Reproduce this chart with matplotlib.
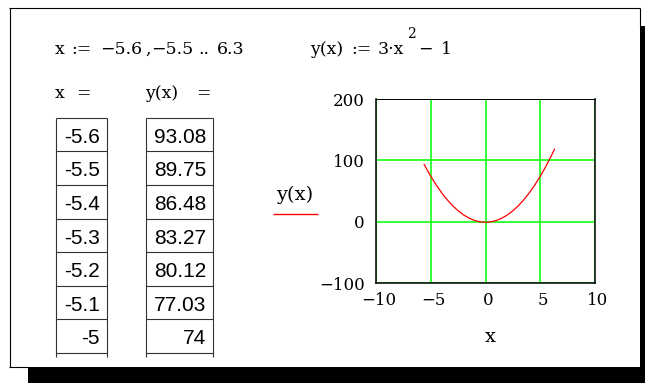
import matplotlib
matplotlib.use('Agg')
import matplotlib.pyplot as plt
import matplotlib.transforms as mtransforms
from matplotlib.patches import Rectangle
from matplotlib.lines import Line2D

# ---- data ----
x_vals = [-5.6, -5.0, -4.5, -4.0, -3.5, -3.0, -2.5, -2.0, -1.5, -1.0, -0.5, 0.0,
          0.5, 1.0, 1.5, 2.0, 2.5, 3.0, 3.5, 4.0, 4.5, 5.0, 5.5, 6.0, 6.3]
y_vals = [93.08, 74.0, 59.75, 47.0, 35.75, 26.0, 17.75, 11.0, 5.75, 2.0, -0.25, -1.0,
          -0.25, 2.0, 5.75, 11.0, 17.75, 26.0, 35.75, 47.0, 59.75, 74.0, 89.75, 107.0, 118.07]
table_x = ["-5.6", "-5.5", "-5.4", "-5.3", "-5.2", "-5.1", "-5"]
table_y = ["93.08", "89.75", "86.48", "83.27", "80.12", "77.03", "74"]
x_ticks = [-10, -5, 0, 5, 10]
y_ticks = [-100, 0, 100, 200]

W, H = 645, 383
fig = plt.figure(figsize=(6.45, 3.83), dpi=100)
fig.patch.set_facecolor('white')

SERIF = 'DejaVu Serif'

def fx(x):
    return x / W

def fy(y):
    return 1 - y / H

def line(xs, ys, color='black', lw=0.8):
    fig.add_artist(Line2D([fx(v) for v in xs], [fy(v) for v in ys], color=color,
                          lw=lw, transform=fig.transFigure, solid_capstyle='butt'))

def rect(x0, y0, x1, y1, color='black'):
    fig.add_artist(Rectangle((fx(x0), fy(y1)), fx(x1) - fx(x0), fy(y0) - fy(y1),
                             facecolor=color, edgecolor='none', transform=fig.transFigure))

def text(x, y, s, family=SERIF, size=12.5, ha='left', va='baseline', color='black'):
    fig.text(fx(x), fy(y), s, family=family, fontsize=size, ha=ha, va=va, color=color)

# page border and shadow
line([9, 639.5], [7.5, 7.5])
line([9.5, 9.5], [7.5, 367])
line([639.5, 639.5], [7.5, 26])
line([9, 28], [366.5, 366.5])
rect(640, 26, 645, 383)
rect(28, 367, 645, 383)

# equations (pieces placed individually)
base = 54
for s, x0 in [("x", 55), (":=", 71.5), ("\u22125.6", 100), (",", 145), ("\u22125.5", 151.5),
              ("..", 198), ("6.3", 216.5)]:
    text(x0, base, s)
for s, x0 in [("y(x)", 310), (":=", 351), ("3\u00b7x", 378), ("\u2212", 418), ("1", 441)]:
    text(x0, base, s)
text(407, 38.5, "2", size=10)

# column headers
text(55, 98.5, "x")
text(76.5, 98.5, "=")
text(145, 98.5, "y(x)")
text(196.5, 98.5, "=")

# tables
row0, rh = 117.7, 33.6
nrows = len(table_x)
bottom = 357
for (xl, xr, vals, tx) in [(55.5, 106.5, table_x, 100), (146, 213, table_y, 206)]:
    line([xl, xl], [row0, bottom], color='#333333')
    line([xr, xr], [row0, bottom], color='#333333')
    for k in range(nrows + 1):
        yy = row0 + k * rh
        line([xl, xr], [yy, yy], color='#333333')
    for k, v in enumerate(vals):
        text(tx, row0 + k * rh + 25, v, family='Liberation Sans', size=15, ha='right')

# legend-like label
text(295, 200, "y(x)", size=14, ha='center')
line([273, 318], [214, 214], color='red', lw=1.0)

# x axis label
text(490, 341.5, "x", size=14, ha='center')

# plot
ax = fig.add_axes([fx(376), fy(283), fx(595) - fx(376), fy(99) - fy(283)])
ax.set_xlim(-10, 10)
ax.set_ylim(-100, 200)
for xv in x_ticks:
    ax.axvline(xv, color='#00ff00', lw=1.1, zorder=1)
for yv in y_ticks:
    ax.axhline(yv, color='#00ff00', lw=1.1, zorder=1)
ax.plot(x_vals, y_vals, color='red', lw=0.9, zorder=3)
for s in ax.spines.values():
    s.set_color('black')
    s.set_linewidth(1.1)
ax.spines['top'].set_linewidth(0.7)
ax.set_xticks(x_ticks)
ax.set_yticks(y_ticks)
ax.set_xticklabels([str(v).replace('-', '\u2212') for v in x_ticks], family=SERIF, fontsize=12)
ax.set_yticklabels([str(v).replace('-', '\u2212') for v in y_ticks], family=SERIF, fontsize=12)
ax.tick_params(length=0)
ax.tick_params(axis='y', pad=8)
ax.tick_params(axis='x', pad=6.5)
offset = mtransforms.ScaledTranslation(3 / 100, 0, fig.dpi_scale_trans)
for lab in ax.get_xticklabels():
    lab.set_transform(lab.get_transform() + offset)

fig.savefig('out.png', dpi=100, facecolor='white')
